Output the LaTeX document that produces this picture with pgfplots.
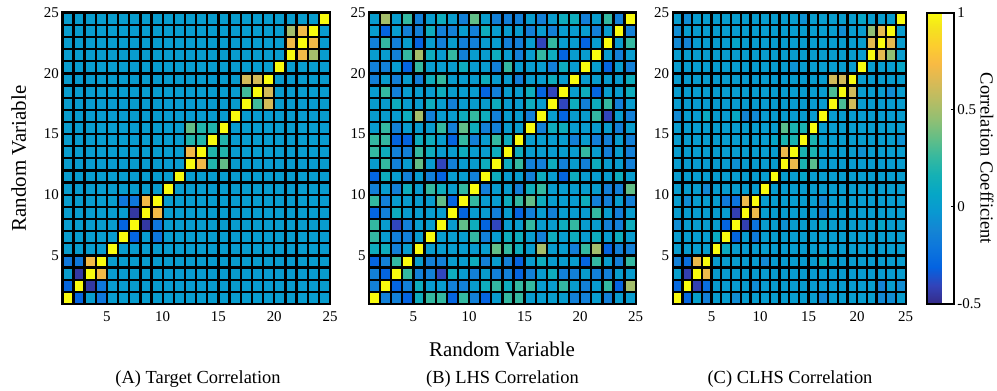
\documentclass[border=0pt]{standalone}
\usepackage{fontspec}
\setmainfont{Liberation Serif}
\usepackage{pgfplots}
\usepackage{pgfplotstable}
\pgfplotsset{compat=1.18}
\newcommand{\tfont}{\fontsize{15}{15}\selectfont}
\newcommand{\lfont}{\fontsize{21}{21}\selectfont}
\newcommand{\sfont}{\fontsize{18.5}{18.5}\selectfont}
\pgfplotsset{colormap={parula}{
 rgb(0cm)=(0.2081,0.1663,0.5292)
 rgb(4cm)=(0.1959,0.2645,0.7279)
 rgb(8cm)=(0.0117,0.3875,0.8820)
 rgb(12cm)=(0.0498,0.4586,0.8641)
 rgb(16cm)=(0.0793,0.5200,0.8312)
 rgb(20cm)=(0.0343,0.5966,0.8199)
 rgb(24cm)=(0.0228,0.6535,0.7768)
 rgb(28cm)=(0.0843,0.6928,0.7062)
 rgb(32cm)=(0.2178,0.7250,0.6193)
 rgb(36cm)=(0.3953,0.7459,0.5244)
 rgb(40cm)=(0.5709,0.7485,0.4494)
 rgb(44cm)=(0.7184,0.7411,0.3905)
 rgb(48cm)=(0.8507,0.7299,0.3360)
 rgb(52cm)=(0.9739,0.7314,0.2666)
 rgb(56cm)=(0.9880,0.8066,0.1794)
 rgb(60cm)=(0.9588,0.8949,0.1132)
 rgb(63cm)=(0.9763,0.9831,0.0538)
}}
\pgfplotsset{hm/.style={
  scale only axis, height=291.3bp,
  xmin=1, xmax=25, ymin=1, ymax=25, enlargelimits=false,
  xtick={1,...,25}, ytick={1,...,25},
  xticklabels={{},{},{},{},5,{},{},{},{},10,{},{},{},{},15,{},{},{},{},20,{},{},{},{},25},
  yticklabels={{},{},{},{},5,{},{},{},{},10,{},{},{},{},15,{},{},{},{},20,{},{},{},{},25},
  major tick length=0pt,
  grid=major, major grid style={black, line width=2.3bp},
  axis on top,
  axis line style={black, line width=2.4bp},
  xticklabel style={font=\tfont, yshift=-4.3bp},
  yticklabel style={font=\tfont},
  colormap name=parula,
  point meta min=-0.5, point meta max=1,
}}
% Panel A: target correlation, rows y=1..24 (bottom to top), 24 values each (x=1..24)
\pgfplotstableread[row sep=\\]{
v\\
1\\-0.3\\0\\-0.2\\ 0\\0\\0\\0\\0\\ 0\\0\\0\\0\\0\\ 0\\0\\0\\0\\0\\ 0\\0\\0\\0\\0\\
-0.3\\1\\-0.45\\-0.2\\ 0\\0\\0\\0\\0\\ 0\\0\\0\\0\\0\\ 0\\0\\0\\0\\0\\ 0\\0\\0\\0\\0\\
0\\-0.45\\1\\0.72\\ 0\\0\\0\\0\\0\\ 0\\0\\0\\0\\0\\ 0\\0\\0\\0\\0\\ 0\\0\\0\\0\\0\\
-0.2\\-0.2\\0.72\\1\\ 0\\0\\0\\0\\0\\ 0\\0\\0\\0\\0\\ 0\\0\\0\\0\\0\\ 0\\0\\0\\0\\0\\
0\\0\\0\\0\\ 1\\ 0\\0\\0\\0\\0\\ 0\\0\\0\\0\\0\\ 0\\0\\0\\0\\0\\ 0\\0\\0\\0\\
0\\0\\0\\0\\0\\ 1\\-0.3\\0\\-0.2\\ 0\\0\\0\\0\\0\\ 0\\0\\0\\0\\0\\ 0\\0\\0\\0\\0\\
0\\0\\0\\0\\0\\ -0.3\\1\\-0.45\\-0.2\\ 0\\0\\0\\0\\0\\ 0\\0\\0\\0\\0\\ 0\\0\\0\\0\\0\\
0\\0\\0\\0\\0\\ 0\\-0.45\\1\\0.72\\ 0\\0\\0\\0\\0\\ 0\\0\\0\\0\\0\\ 0\\0\\0\\0\\0\\
0\\0\\0\\0\\0\\ -0.2\\-0.2\\0.72\\1\\ 0\\0\\0\\0\\0\\ 0\\0\\0\\0\\0\\ 0\\0\\0\\0\\0\\
0\\0\\0\\0\\0\\ 0\\0\\0\\0\\ 1\\ 0\\0\\0\\0\\0\\ 0\\0\\0\\0\\0\\ 0\\0\\0\\0\\
0\\0\\0\\0\\0\\ 0\\0\\0\\0\\0\\ 1\\ 0\\0\\0\\0\\0\\ 0\\0\\0\\0\\0\\ 0\\0\\0\\
0\\0\\0\\0\\0\\ 0\\0\\0\\0\\0\\ 0\\ 1\\0.72\\0.2\\0.35\\ 0\\0\\0\\0\\0\\ 0\\0\\0\\0\\
0\\0\\0\\0\\0\\ 0\\0\\0\\0\\0\\ 0\\ 0.72\\1\\0.2\\0.2\\ 0\\0\\0\\0\\0\\ 0\\0\\0\\0\\
0\\0\\0\\0\\0\\ 0\\0\\0\\0\\0\\ 0\\ 0.2\\0.2\\1\\0.2\\ 0\\0\\0\\0\\0\\ 0\\0\\0\\0\\
0\\0\\0\\0\\0\\ 0\\0\\0\\0\\0\\ 0\\ 0.35\\0.2\\0.2\\1\\ 0\\0\\0\\0\\0\\ 0\\0\\0\\0\\
0\\0\\0\\0\\0\\ 0\\0\\0\\0\\0\\ 0\\0\\0\\0\\0\\ 1\\ 0\\0\\0\\0\\0\\ 0\\0\\0\\
0\\0\\0\\0\\0\\ 0\\0\\0\\0\\0\\ 0\\0\\0\\0\\0\\ 0\\ 1\\0.28\\0.63\\ 0\\0\\0\\0\\0\\
0\\0\\0\\0\\0\\ 0\\0\\0\\0\\0\\ 0\\0\\0\\0\\0\\ 0\\ 0.28\\1\\0.63\\ 0\\0\\0\\0\\0\\
0\\0\\0\\0\\0\\ 0\\0\\0\\0\\0\\ 0\\0\\0\\0\\0\\ 0\\ 0.63\\0.63\\1\\ 0\\0\\0\\0\\0\\
0\\0\\0\\0\\0\\ 0\\0\\0\\0\\0\\ 0\\0\\0\\0\\0\\ 0\\0\\0\\0\\ 1\\ 0\\0\\0\\0\\
0\\0\\0\\0\\0\\ 0\\0\\0\\0\\0\\ 0\\0\\0\\0\\0\\ 0\\0\\0\\0\\0\\ 1\\0.72\\0.5\\0\\
0\\0\\0\\0\\0\\ 0\\0\\0\\0\\0\\ 0\\0\\0\\0\\0\\ 0\\0\\0\\0\\0\\ 0.72\\1\\0.72\\0\\
0\\0\\0\\0\\0\\ 0\\0\\0\\0\\0\\ 0\\0\\0\\0\\0\\ 0\\0\\0\\0\\0\\ 0.5\\0.72\\1\\0\\
0\\0\\0\\0\\0\\ 0\\0\\0\\0\\0\\ 0\\0\\0\\0\\0\\ 0\\0\\0\\0\\0\\ 0\\0\\0\\ 1\\
}\matA
% Panel B: LHS correlation
\pgfplotstableread[row sep=\\]{
v\\
1\\-0.15\\-0.15\\-0.3\\0.12\\0.25\\0.25\\-0.3\\0.25\\-0.15\\-0.3\\0\\0.25\\0.25\\0\\0\\0\\0\\-0.15\\-0.15\\0\\-0.15\\0\\0\\
-0.15\\1\\-0.3\\-0.15\\0.12\\0\\0\\-0.15\\-0.15\\0\\0.12\\0.25\\0.12\\0.25\\0.25\\0\\0\\0.25\\0\\-0.15\\0\\0.25\\-0.3\\0.5\\
-0.15\\-0.3\\1\\0.25\\-0.15\\-0.15\\-0.4\\0.12\\0\\-0.15\\0\\-0.15\\-0.15\\-0.3\\-0.15\\0\\0.12\\-0.15\\-0.15\\0\\-0.15\\-0.15\\0\\0\\
-0.3\\-0.15\\0.25\\1\\0\\-0.15\\-0.15\\0\\0\\0.12\\-0.15\\0\\-0.15\\-0.3\\0\\0.12\\0\\0\\0\\-0.3\\0.25\\0\\-0.15\\0.25\\
0.12\\0.12\\-0.15\\0\\1\\0\\0\\0\\0\\0\\0\\0.35\\0.25\\0.12\\0\\0.5\\0\\0\\-0.15\\0.25\\0.5\\-0.3\\-0.15\\-0.15\\
0.25\\0\\-0.15\\-0.15\\0\\1\\0\\0\\0\\0.25\\-0.15\\0\\0.12\\0.12\\0\\-0.15\\0.12\\0\\0.12\\0\\0.12\\0\\0.12\\0\\
0.25\\0\\-0.4\\-0.15\\0\\0\\1\\0\\0.35\\0.12\\-0.3\\-0.4\\0\\0\\0.25\\0\\0\\0.12\\0.25\\0\\0\\-0.15\\-0.15\\0.12\\
-0.3\\-0.15\\0.12\\0\\0\\0\\0\\1\\-0.3\\0\\0\\-0.15\\0\\-0.3\\-0.15\\0\\-0.15\\0\\0\\0\\0.25\\0\\-0.15\\0\\
0.25\\-0.15\\0\\0\\0\\0\\0.35\\-0.3\\1\\0.25\\0\\0\\0.12\\0.25\\0.35\\0.12\\0\\0\\0\\0.12\\-0.15\\-0.15\\0\\-0.15\\
-0.15\\0\\-0.15\\0.12\\0\\0.25\\0.12\\0\\0.25\\1\\-0.15\\0\\0\\-0.15\\0.12\\0.25\\0\\0\\0\\0\\0\\-0.15\\-0.15\\0.35\\
-0.3\\0.12\\0\\-0.15\\0\\-0.15\\-0.3\\0\\0\\-0.15\\1\\0.12\\0\\0\\-0.15\\0.12\\0\\-0.3\\0.12\\0\\0\\0\\0.12\\0\\
0\\0.25\\-0.15\\0\\0.35\\0\\-0.4\\-0.15\\0\\0\\0.12\\1\\0.12\\0.25\\-0.15\\-0.15\\0.12\\-0.15\\0\\-0.15\\0.12\\0\\0\\-0.15\\
0.25\\0.12\\-0.15\\-0.15\\0.25\\0.12\\0\\0\\0.12\\0\\0\\0.12\\1\\0.12\\0\\0\\0\\0\\0\\0.25\\0\\-0.15\\0\\-0.15\\
0.25\\0.25\\-0.3\\-0.3\\0.12\\0.12\\0\\-0.3\\0.25\\-0.15\\0\\0.25\\0.12\\1\\0\\0\\0\\0\\-0.15\\0\\-0.15\\-0.15\\0\\-0.15\\
0\\0.25\\-0.15\\0\\0\\0\\0.25\\-0.15\\0.35\\0.12\\-0.15\\-0.15\\0\\0\\1\\-0.15\\0.12\\0.12\\0\\0\\0\\0\\-0.15\\0\\
0\\0\\0\\0.12\\0.5\\-0.15\\0\\0\\0.12\\0.25\\0.12\\-0.15\\0\\0\\-0.15\\1\\0\\-0.3\\0\\0\\0.25\\-0.4\\0\\-0.15\\
0\\0\\0.12\\0\\0\\0.12\\0\\-0.15\\0\\0\\0\\0.12\\0\\0\\0.12\\0\\1\\-0.4\\0.12\\-0.15\\0.12\\0.25\\-0.15\\0\\
0\\0.25\\-0.15\\0\\0\\0\\0.12\\0\\0\\0\\-0.3\\-0.15\\0\\0\\0.12\\-0.3\\-0.4\\1\\0\\0.12\\-0.3\\0\\0\\0.12\\
-0.15\\0\\-0.15\\0\\-0.15\\0.12\\0.25\\0\\0\\0\\0.12\\0\\0\\-0.15\\0\\0\\0.12\\0\\1\\0\\0\\0\\0\\0.12\\
-0.15\\-0.15\\0\\-0.3\\0.25\\0\\0\\0\\0.12\\0\\0\\-0.15\\0.25\\0\\0\\0\\-0.15\\0.12\\0\\1\\0\\-0.3\\0\\-0.15\\
0\\0\\-0.15\\0.25\\0.5\\0.12\\0\\0.25\\-0.15\\0\\0\\0.12\\0\\-0.15\\0\\0.25\\0.12\\-0.3\\0\\0\\1\\0\\-0.15\\0\\
-0.15\\0.25\\-0.15\\0\\-0.3\\0\\-0.15\\0\\-0.15\\-0.15\\0\\0\\-0.15\\-0.15\\0\\-0.4\\0.25\\0\\0\\-0.3\\0\\1\\0\\0.25\\
0\\-0.3\\0\\-0.15\\-0.15\\0.12\\-0.15\\-0.15\\0\\-0.15\\0.12\\0\\0\\0\\-0.15\\0\\-0.15\\0\\0\\0\\-0.15\\0\\1\\-0.15\\
0\\0.5\\0\\0.25\\-0.15\\0\\0.12\\0\\-0.15\\0.35\\0\\-0.15\\-0.15\\-0.15\\0\\-0.15\\0\\0.12\\0.12\\-0.15\\0\\0.25\\-0.15\\1\\
}\matB
% Panel C: CLHS correlation
\pgfplotstableread[row sep=\\]{
v\\
1\\-0.28\\0.02\\-0.15\\ 0\\0\\-0.08\\ 0\\0\\0\\0\\0\\0\\0\\0\\ -0.1\\ 0\\0\\0\\0\\0\\ -0.1\\-0.08\\0\\
-0.28\\1\\-0.42\\-0.25\\ 0\\0\\0\\0\\ -0.08\\ 0\\0\\0\\0\\0\\0\\0\\0\\0\\0\\0\\0\\ -0.12\\0\\-0.08\\
0.02\\-0.42\\1\\0.7\\ 0\\0\\0\\0\\0\\ 0\\0\\0\\0\\0\\ 0\\0\\0\\0\\0\\ 0\\0\\0\\0\\0\\
-0.15\\-0.25\\0.7\\1\\ 0\\0\\0\\0\\0\\ -0.1\\ 0\\0\\0\\0\\0\\ 0.1\\ 0\\0\\0\\0\\0\\0\\0\\0\\
0\\0\\0\\0\\ 1\\0.1\\ 0\\0\\0\\0\\0\\0\\ 0\\0\\0\\0\\0\\0\\ 0\\0\\0\\0\\0\\0\\
0\\0\\0\\0\\ 0.1\\1\\-0.3\\0\\-0.18\\ 0\\0\\0\\0\\0\\ 0\\0\\0\\0\\0\\ 0\\0\\0\\0\\0\\
-0.08\\0\\0\\0\\0\\ -0.3\\1\\-0.42\\-0.22\\ 0\\0\\ -0.06\\ 0\\0\\0\\ 0.08\\ 0\\0\\0\\0\\0\\ 0.06\\0\\0\\
0\\0\\0\\0\\0\\0\\ -0.42\\1\\0.7\\ 0\\0\\0\\0\\0\\0\\ -0.12\\ 0\\0\\0\\0\\0\\0\\0\\0\\
0\\-0.08\\0\\0\\0\\ -0.18\\-0.22\\0.7\\1\\ 0\\0\\0\\0\\0\\0\\ -0.1\\ 0\\0\\0\\0\\0\\0\\0\\0\\
0\\0\\0\\-0.1\\0\\0\\0\\0\\0\\ 1\\ 0\\0\\0\\0\\0\\0\\0\\ 0\\0\\0\\0\\0\\0\\0\\
0\\0\\0\\0\\0\\0\\0\\0\\0\\0\\ 1\\0\\0\\0.06\\ 0\\0\\0\\0\\0\\ 0\\0\\0\\0\\0\\
0\\0\\0\\0\\0\\0\\ -0.06\\ 0\\0\\0\\0\\ 1\\0.7\\0.18\\0.33\\ 0\\0\\0\\0\\0\\ 0\\0\\0\\0\\
0\\0\\0\\0\\0\\ 0\\0\\0\\0\\0\\ 0\\ 0.7\\1\\0.18\\0.18\\ 0\\0\\0\\0\\ -0.06\\ 0\\0\\0\\0\\
0\\0\\0\\0\\0\\ 0\\0\\0\\0\\0\\ 0.06\\0.18\\0.18\\1\\0.18\\ 0\\0\\0\\0\\0\\0\\0\\0\\ -0.06\\
0\\0\\0\\0\\0\\ 0\\0\\0\\0\\0\\ 0\\ 0.33\\0.18\\0.18\\1\\ 0\\0\\0\\0\\0\\ 0\\0\\0\\0\\
-0.1\\0\\0\\0.1\\0\\0\\0.08\\-0.12\\-0.1\\ 0\\0\\0\\0\\0\\0\\ 1\\ 0\\0\\0\\0\\0\\0\\0\\0\\
0\\0\\0\\0\\0\\ 0\\0\\0\\0\\0\\ 0\\0\\0\\0\\0\\ 0\\ 1\\0.3\\0.62\\ 0\\0\\0\\0\\0\\
0\\0\\0\\0\\0\\ 0\\0\\0\\0\\0\\ 0\\0\\0\\0\\0\\ 0\\ 0.3\\1\\0.62\\ 0\\0\\0\\-0.08\\0\\
0\\0\\0\\0\\0\\ 0\\0\\0\\0\\0\\ 0\\0\\0\\0\\0\\ 0\\ 0.62\\0.62\\1\\ 0\\0\\0\\0\\0\\
0\\0\\0\\0\\0\\0\\0\\0\\0\\0\\0\\0\\ -0.06\\ 0\\0\\0\\0\\0\\0\\ 1\\ 0\\0\\0\\ 0.06\\
0\\0\\0\\0\\0\\ 0\\0\\0\\0\\0\\ 0\\0\\0\\0\\0\\ 0\\0\\0\\0\\0\\ 1\\0.68\\0.45\\0\\
-0.1\\-0.12\\0\\0\\0\\0\\0.06\\ 0\\0\\0\\0\\0\\0\\0\\0\\0\\0\\0\\0\\0\\ 0.68\\1\\0.68\\0\\
-0.08\\ 0\\0\\0\\0\\0\\0\\0\\0\\0\\0\\0\\0\\0\\0\\0\\0\\ -0.08\\0\\0\\ 0.45\\0.68\\1\\0\\
0\\-0.08\\ 0\\0\\0\\0\\0\\0\\0\\0\\0\\0\\0\\ -0.06\\ 0\\0\\0\\0\\0\\ 0.06\\ 0\\0\\0\\ 1\\
}\matC
\begin{document}
\begin{tikzpicture}
\path[use as bounding box] (0,0) rectangle (997bp,391bp);
\begin{axis}[hm, width=267.7bp, at={(62.3bp,87bp)}, anchor=south west]
\addplot[matrix plot*, mesh/cols=24, mesh/rows=24, point meta=\thisrow{v}]
  table[x index=0, y index=0,
    x expr={\coordindex-24*floor((\coordindex+0.5)/24)+1.5},
    y expr={floor((\coordindex+0.5)/24)+1.5}] {\matA};
\end{axis}
\begin{axis}[hm, width=266.7bp, at={(369bp,87bp)}, anchor=south west]
\addplot[matrix plot*, mesh/cols=24, mesh/rows=24, point meta=\thisrow{v}]
  table[x index=0, y index=0,
    x expr={\coordindex-24*floor((\coordindex+0.5)/24)+1.5},
    y expr={floor((\coordindex+0.5)/24)+1.5}] {\matB};
\end{axis}
\begin{axis}[hm, width=233bp, at={(672.7bp,87bp)}, anchor=south west,
  colorbar,
  colorbar style={
    scale only axis,
    at={(parent axis.north east)}, anchor=north west, xshift=13bp,
    width=26.6bp, height=291.3bp,
    ytick={-0.5,0,0.5,1}, yticklabels={-0.5,0,0.5,1},
    yticklabel style={font=\tfont},
    ytick pos=right, yticklabel pos=right,
    tick align=inside, major tick length=3bp,
    tick style={black, line width=0.8bp},
    axis line style={black, line width=2bp},
  }]
\addplot[matrix plot*, mesh/cols=24, mesh/rows=24, point meta=\thisrow{v}]
  table[x index=0, y index=0,
    x expr={\coordindex-24*floor((\coordindex+0.5)/24)+1.5},
    y expr={floor((\coordindex+0.5)/24)+1.5}] {\matC};
\end{axis}
\node[rotate=90, font=\lfont] at (18.7bp,232.6bp) {Random Variable};
\node[font=\lfont, anchor=base] at (502bp,35bp) {Random Variable};
\node[font=\sfont, anchor=base] at (198bp,7.7bp) {(A) Target Correlation};
\node[font=\sfont, anchor=base] at (502.5bp,7.7bp) {(B) LHS Correlation};
\node[font=\sfont, anchor=base] at (790bp,7.7bp) {(C) CLHS Correlation};
\node[rotate=-90, font=\sfont] at (987bp,232.6bp) {Correlation Coefficient};
\end{tikzpicture}
\end{document}
